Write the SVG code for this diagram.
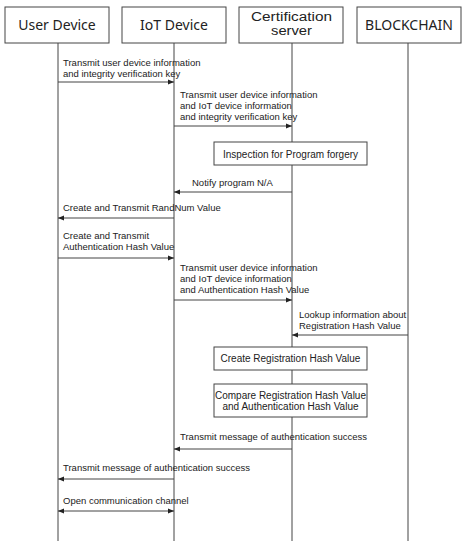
<svg xmlns="http://www.w3.org/2000/svg" width="467" height="550" viewBox="0 0 467 550">
<style>
.hdr{fill:#fff;stroke:#444;stroke-width:1}
.ht{font-family:"Noto Sans","Liberation Sans",sans-serif;font-size:14px;fill:#222;text-anchor:middle}
.ht2{font-family:"Liberation Sans",Arial,sans-serif;font-size:12.5px;fill:#222;text-anchor:middle}
.life{stroke:#444;stroke-width:1}
.msg{stroke:#444;stroke-width:1;fill:none}
.mt{font-family:"Liberation Sans",Arial,sans-serif;font-size:9.5px;fill:#222}
.bt{font-family:"Liberation Sans",Arial,sans-serif;font-size:10px;fill:#222;text-anchor:middle}
</style>
<defs>
<marker id="ah" markerWidth="6" markerHeight="6" refX="6" refY="3" orient="auto" markerUnits="userSpaceOnUse">
<path d="M0,0.5 L6,3 L0,5.5 Z" fill="#222"/>
</marker>
<marker id="as" markerWidth="6" markerHeight="6" refX="0" refY="3" orient="auto" markerUnits="userSpaceOnUse">
<path d="M6,0.5 L0,3 L6,5.5 Z" fill="#222"/>
</marker>
</defs>
<rect width="467" height="550" fill="#fff"/>
<g id="user-device">
<rect class="hdr" x="5" y="7" width="104" height="36"/>
<text class="ht" x="57" y="30">User Device</text>
<line class="life" x1="58" y1="43" x2="58" y2="541"/>
</g>
<g id="iot-device">
<rect class="hdr" x="122" y="7" width="104" height="36"/>
<text class="ht" x="174" y="30">IoT Device</text>
<line class="life" x1="174" y1="43" x2="174" y2="541"/>
</g>
<g id="certification-server">
<rect class="hdr" x="239" y="7" width="104" height="36"/>
<text class="ht2" x="291.5" y="20.5" textLength="81" lengthAdjust="spacingAndGlyphs">Certification</text>
<text class="ht2" x="291.5" y="34.5" textLength="41" lengthAdjust="spacingAndGlyphs">server</text>
<line class="life" x1="292" y1="43" x2="292" y2="541"/>
</g>
<g id="blockchain">
<rect class="hdr" x="357" y="7" width="104" height="36"/>
<text class="ht" x="409" y="30">BLOCKCHAIN</text>
<line class="life" x1="408" y1="43" x2="408" y2="541"/>
</g>
<g id="inspection">
<rect class="hdr" x="214" y="142" width="153" height="23"/>
<text class="bt" x="290.5" y="157.5">Inspection for Program  forgery</text>
</g>
<g id="create-registration">
<rect class="hdr" x="214" y="347" width="153" height="23"/>
<text class="bt" x="290.5" y="362">Create Registration Hash Value</text>
</g>
<g id="compare">
<rect class="hdr" x="214" y="384" width="153" height="33"/>
<text class="bt" x="290.5" y="398.5">Compare  Registration Hash Value</text>
<text class="bt" x="290.5" y="410">and  Authentication  Hash Value</text>
</g>
<g id="connectors">
<line class="msg" x1="58" y1="82" x2="174" y2="82" marker-end="url(#ah)"/>
<line class="msg" x1="174" y1="126" x2="292" y2="126" marker-end="url(#ah)"/>
<line class="msg" x1="292" y1="192" x2="174" y2="192" marker-end="url(#ah)"/>
<line class="msg" x1="174" y1="218" x2="58" y2="218" marker-end="url(#ah)"/>
<line class="msg" x1="58" y1="258" x2="174" y2="258" marker-end="url(#ah)"/>
<line class="msg" x1="174" y1="300" x2="292" y2="300" marker-end="url(#ah)"/>
<line class="msg" x1="408" y1="335" x2="292" y2="335" marker-end="url(#ah)"/>
<line class="msg" x1="292" y1="449" x2="174" y2="449" marker-end="url(#ah)"/>
<line class="msg" x1="174" y1="479" x2="58" y2="479" marker-end="url(#ah)"/>
<line class="msg" x1="58" y1="511" x2="174" y2="511" marker-start="url(#as)" marker-end="url(#ah)"/>
</g>
<g id="labels">
<text class="mt" x="63" y="66">Transmit user device information</text>
<text class="mt" x="63" y="76.5">and integrity verification key</text>
<text class="mt" x="180" y="98">Transmit user device information</text>
<text class="mt" x="180" y="109">and IoT device information</text>
<text class="mt" x="180" y="120">and integrity verification key</text>
<text class="mt" x="192" y="186">Notify program N/A</text>
<text class="mt" x="63" y="211">Create and Transmit RandNum Value</text>
<text class="mt" x="63" y="239">Create and Transmit</text>
<text class="mt" x="63" y="250">Authentication Hash Value</text>
<text class="mt" x="180" y="271">Transmit user device information</text>
<text class="mt" x="180" y="282">and IoT device information</text>
<text class="mt" x="180" y="293">and Authentication Hash Value</text>
<text class="mt" x="299" y="318">Lookup information about</text>
<text class="mt" x="299" y="328.5">Registration Hash Value</text>
<text class="mt" x="180" y="440">Transmit message of authentication success</text>
<text class="mt" x="63" y="471">Transmit message of authentication success</text>
<text class="mt" x="63" y="504">Open  communication channel</text>
</g>
</svg>
